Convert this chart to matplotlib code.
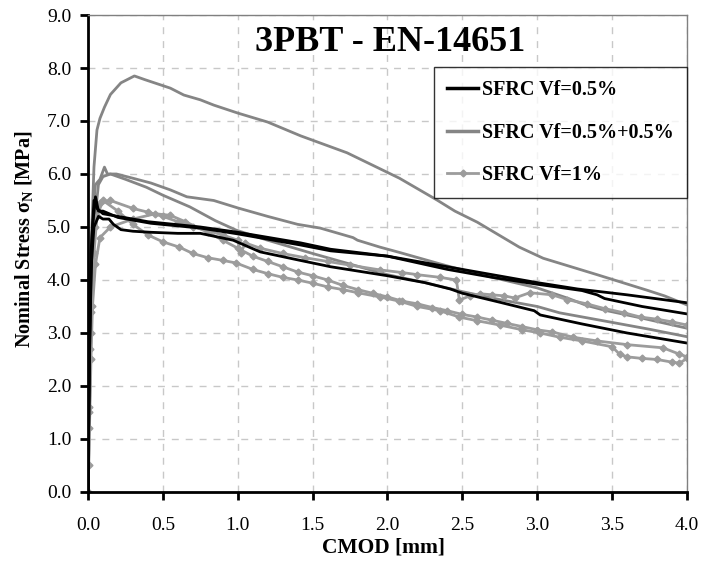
import matplotlib
matplotlib.use("Agg")
import matplotlib.pyplot as plt

plt.rcParams['font.family'] = ['Liberation Serif', 'DejaVu Serif']
plt.rcParams['mathtext.fontset'] = 'custom'
plt.rcParams['mathtext.rm'] = 'Liberation Serif'
plt.rcParams['mathtext.bf'] = 'Liberation Serif:bold'

# SFRC Vf=0.5% (black)
b1_x = [0, 0.01, 0.02, 0.04, 0.06, 0.1, 0.2, 0.4, 0.75, 1.0, 1.42, 1.62, 2.0, 2.24, 2.6, 3.0, 3.27, 3.6, 4.0]
b1_y = [0, 2.5, 4.5, 5.5, 5.35, 5.25, 5.2, 5.1, 5.0, 4.9, 4.7, 4.58, 4.45, 4.33, 4.15, 3.95, 3.83, 3.72, 3.57]
b2_x = [0, 0.01, 0.03, 0.05, 0.07, 0.1, 0.2, 0.42, 0.75, 1.0, 1.42, 1.62, 2.0, 2.24, 2.4, 2.7, 3.0, 3.3, 3.4, 3.45, 3.7, 4.0]
b2_y = [0, 2.8, 5.0, 5.57, 5.3, 5.3, 5.18, 5.07, 4.98, 4.87, 4.66, 4.55, 4.45, 4.3, 4.2, 4.05, 3.92, 3.8, 3.72, 3.65, 3.5, 3.36]
b3_x = [0, 0.01, 0.02, 0.04, 0.07, 0.1, 0.14, 0.17, 0.22, 0.3, 0.42, 0.6, 0.75, 0.97, 1.15, 1.4, 1.62, 2.0, 2.25,
        2.42, 2.5, 2.75, 2.98, 3.02, 3.3, 3.6, 4.0]
b3_y = [0, 2.5, 4.2, 5.0, 5.2, 5.15, 5.15, 5.05, 4.95, 4.92, 4.9, 4.88, 4.88, 4.75, 4.53, 4.38, 4.25, 4.08, 3.95,
        3.83, 3.75, 3.58, 3.42, 3.34, 3.17, 3.0, 2.81]

# SFRC Vf=0.5%+0.5% (gray)
g1_x = [0, 0.01, 0.02, 0.04, 0.06, 0.08, 0.11, 0.15, 0.22, 0.31, 0.38, 0.55, 0.64, 0.75, 0.84, 1.0, 1.2, 1.42,
        1.73, 2.08, 2.33, 2.45, 2.6, 2.88, 3.04, 3.4, 3.73, 3.85, 4.0]
g1_y = [0, 2.0, 4.5, 6.13, 6.83, 7.05, 7.26, 7.5, 7.72, 7.85, 7.78, 7.62, 7.49, 7.4, 7.3, 7.15, 6.98, 6.72,
        6.4, 5.92, 5.51, 5.3, 5.09, 4.62, 4.41, 4.1, 3.81, 3.7, 3.53]
g2_x = [0, 0.01, 0.02, 0.03, 0.05, 0.08, 0.11, 0.13, 0.19, 0.3, 0.42, 0.55, 0.66, 0.84, 1.0, 1.2, 1.4, 1.55,
        1.77, 1.8, 1.95, 2.08, 2.33, 2.42, 2.7, 3.0, 3.2, 3.33, 3.45, 3.7, 4.0]
g2_y = [0, 2.0, 4.0, 5.2, 5.8, 5.9, 6.13, 6.0, 6.0, 5.92, 5.83, 5.7, 5.57, 5.5, 5.36, 5.2, 5.05, 4.98,
        4.8, 4.75, 4.62, 4.52, 4.32, 4.25, 4.05, 3.85, 3.66, 3.52, 3.43, 3.28, 3.09]
g3_x = [0, 0.01, 0.02, 0.04, 0.07, 0.1, 0.15, 0.25, 0.39, 0.5, 0.68, 0.85, 0.99, 1.2, 1.5, 1.75, 2.0, 2.25,
        2.5, 2.75, 3.0, 3.15, 3.5, 3.75, 4.0]
g3_y = [0, 1.5, 3.5, 5.0, 5.8, 5.95, 6.0, 5.9, 5.75, 5.6, 5.38, 5.12, 4.94, 4.75, 4.5, 4.3, 4.1, 3.95,
        3.78, 3.63, 3.5, 3.38, 3.2, 3.07, 2.93]

# SFRC Vf=1% (light gray, diamonds)
d1_x = [0, 0.005, 0.01, 0.015, 0.02, 0.03, 0.05, 0.08, 0.15, 0.3, 0.4, 0.5, 0.6, 0.7, 0.8, 0.9, 1.0, 1.02, 1.05,
        1.15, 1.3, 1.45, 1.6, 1.75, 1.95, 2.1, 2.2, 2.35, 2.46, 2.48, 2.55, 2.62, 2.7, 2.78, 2.85, 2.95, 3.1,
        3.2, 3.33, 3.45, 3.58, 3.69, 3.8, 3.9, 4.0]
d1_y = [0, 0.5, 1.6, 2.7, 3.4, 4.3, 5.0, 5.45, 5.5, 5.35, 5.28, 5.2, 5.1, 5.0, 4.93, 4.85, 4.75, 4.5, 4.7,
        4.6, 4.5, 4.42, 4.35, 4.28, 4.19, 4.14, 4.1, 4.05, 4.0, 3.62, 3.7, 3.74, 3.72, 3.7, 3.66, 3.76, 3.72,
        3.63, 3.55, 3.46, 3.38, 3.3, 3.26, 3.21, 3.15]
d2_x = [0, 0.01, 0.02, 0.04, 0.06, 0.1, 0.2, 0.3, 0.4, 0.5, 0.61, 0.7, 0.8, 0.9, 0.99, 1.1, 1.2, 1.3, 1.4, 1.5,
        1.6, 1.7, 1.8, 1.95, 2.08, 2.2, 2.35, 2.48, 2.6, 2.75, 2.9, 3.02, 3.15, 3.3, 3.5, 3.55, 3.6, 3.7, 3.8,
        3.9, 3.95, 4.0]
d2_y = [0, 1.5, 3.0, 4.5, 5.2, 5.5, 5.3, 5.05, 4.85, 4.72, 4.62, 4.5, 4.42, 4.37, 4.32, 4.2, 4.12, 4.05, 4.0, 3.94,
        3.87, 3.82, 3.76, 3.68, 3.6, 3.5, 3.42, 3.3, 3.23, 3.15, 3.06, 3.0, 2.92, 2.85, 2.74, 2.6, 2.55, 2.52, 2.5,
        2.45, 2.43, 2.52]
d3_x = [0, 0.01, 0.02, 0.03, 0.05, 0.08, 0.15, 0.3, 0.45, 0.55, 0.65, 0.8, 0.9, 1.0, 1.1, 1.2, 1.3, 1.4, 1.5,
        1.6, 1.7, 1.8, 1.9, 2.0, 2.1, 2.2, 2.3, 2.4, 2.5, 2.6, 2.7, 2.8, 2.9, 3.0, 3.1, 3.24, 3.4, 3.6, 3.84,
        3.95, 4.0]
d3_y = [0, 1.2, 2.5, 3.5, 4.3, 4.8, 5.0, 5.15, 5.25, 5.22, 5.1, 4.9, 4.75, 4.6, 4.45, 4.35, 4.25, 4.15, 4.08,
        4.0, 3.9, 3.82, 3.75, 3.68, 3.6, 3.55, 3.48, 3.42, 3.35, 3.3, 3.24, 3.18, 3.12, 3.06, 3.02, 2.92, 2.85,
        2.78, 2.72, 2.6, 2.55]

black = '#000000'
gray = '#858585'
light = '#9c9c9c'

fig = plt.figure(figsize=(7.01, 5.62), dpi=100)
ax = fig.add_axes([0.1255, 0.1246, 0.8545, 0.8487])

ax.grid(True, color='#c8c8c8', linestyle=(0, (5, 5)), linewidth=1)
ax.set_axisbelow(True)

lw = 2.0
ax.plot(g1_x, g1_y, color=gray, lw=lw)
ax.plot(g2_x, g2_y, color=gray, lw=lw)
ax.plot(g3_x, g3_y, color=gray, lw=lw)
ax.plot(d1_x, d1_y, color=light, lw=lw, marker='D', ms=3.5)
ax.plot(d2_x, d2_y, color=light, lw=lw, marker='D', ms=3.5)
ax.plot(d3_x, d3_y, color=light, lw=lw, marker='D', ms=3.5)
ax.plot(b1_x, b1_y, color=black, lw=lw)
ax.plot(b2_x, b2_y, color=black, lw=lw)
ax.plot(b3_x, b3_y, color=black, lw=lw)

# legend proxies
h1, = ax.plot([], [], color=black, lw=2.5, label='SFRC Vf=0.5%')
h2, = ax.plot([], [], color=gray, lw=2.5, label='SFRC Vf=0.5%+0.5%')
h3, = ax.plot([], [], color=light, lw=2.0, marker='D', ms=3.5, label='SFRC Vf=1%')
leg = ax.legend(handles=[h1, h2, h3], loc='upper right', bbox_to_anchor=(1.0, 0.891),
                prop={'weight': 'bold', 'size': 14.5}, frameon=True, fancybox=False,
                labelspacing=1.12, handlelength=1.55, handletextpad=0.2, borderpad=0.65,
                borderaxespad=0)
leg.get_frame().set_edgecolor('black')
leg.get_frame().set_linewidth(1.0)

ax.set_xlim(0, 4.0)
ax.set_ylim(0, 9.0)
ax.set_xticks([0, 0.5, 1.0, 1.5, 2.0, 2.5, 3.0, 3.5, 4.0])
ax.set_yticks([0, 1, 2, 3, 4, 5, 6, 7, 8, 9])
ax.xaxis.set_major_formatter(matplotlib.ticker.FormatStrFormatter('%.1f'))
ax.yaxis.set_major_formatter(matplotlib.ticker.FormatStrFormatter('%.1f'))
ax.tick_params(axis='both', labelsize=14, direction='out', length=6, width=2, color='black')
ax.tick_params(axis='y', pad=6)
ax.tick_params(axis='x', pad=12)

for s in ['left', 'bottom']:
    ax.spines[s].set_linewidth(2)
    ax.spines[s].set_color('black')
for s in ['top', 'right']:
    ax.spines[s].set_linewidth(1)
    ax.spines[s].set_color('#808080')

ax.text(0.504, 0.943, '3PBT - EN-14651', transform=ax.transAxes, ha='center', va='center',
        fontsize=26, fontweight='bold')
ax.set_xlabel('CMOD [mm]', fontsize=15.5, fontweight='bold', va='center')
ax.xaxis.set_label_coords(0.494, -0.117)
ax.set_ylabel(r'Nominal Stress σ$_\mathbf{N}$ [MPa]', fontsize=14.5, fontweight='bold', va='center')
ax.yaxis.set_label_coords(-0.105, 0.53)

fig.savefig('out.png', dpi=100)
